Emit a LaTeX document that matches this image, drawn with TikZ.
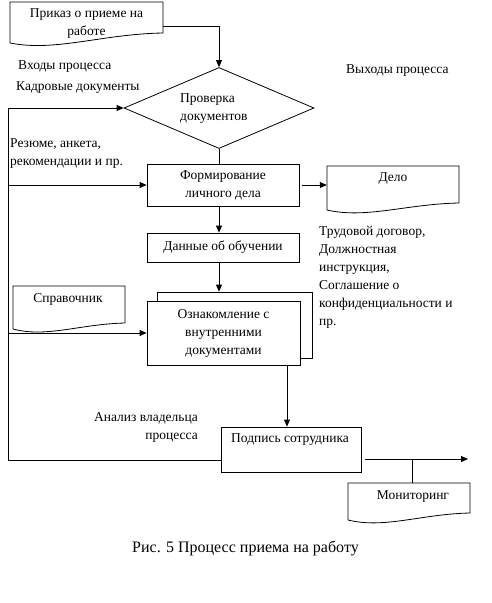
\documentclass[tikz,border=0pt]{standalone}
\usepackage{fontspec}
\setmainfont{Liberation Serif}
\usetikzlibrary{arrows.meta,shapes.geometric,calc}
\newcommand\mydocpath[5]{% x1, ytop, x2, yleft-bottom, yright-bottom
  \draw[line width=0.8pt] (#1,#2) -- (#3,#2) -- (#3,#5)
    .. controls ({#1+0.6*(#3-#1)},{#5+1}) and ({#1+0.3*(#3-#1)},{#4+9}) .. (#1,#4) -- cycle;}
\begin{document}
\begin{tikzpicture}[x=1pt,y=-1pt,
  every node/.style={font=\fontsize{13.5}{18}\selectfont, inner sep=0pt},
  box/.style={draw, line width=0.8pt, rectangle, fill=white},
  ghost/.style={draw=none, rectangle},
  conn/.style={line width=0.8pt},
  arr/.style={line width=0.8pt, -{Triangle[length=7pt,width=6pt]}},
  txt/.style={align=left, anchor=west}]
\useasboundingbox (0,0) rectangle (491,603);

% documents
\mydocpath{10}{2}{163}{43}{33}
\node[ghost, minimum width=153pt, minimum height=43pt, align=center] (prikaz) at (86.5,24) {Приказ о приеме на\\работе};

\mydocpath{327}{166}{459}{210}{203}
\node[ghost, minimum width=132pt, minimum height=44pt] (delo) at (393,188) {};
\node (delot) at (393,179) {Дело};

\mydocpath{13}{286}{125}{329}{323}
\node[ghost, minimum width=112pt, minimum height=43pt] (sprav) at (69,307.5) {};
\node (spravt) at (68,299) {Справочник};

\mydocpath{348}{483}{470}{520}{513}
\node[ghost, minimum width=122pt, minimum height=37pt] (monit) at (409,501.5) {};
\node (monitt) at (413,497) {Мониторинг};

% process shapes
\node[diamond, draw, line width=0.8pt, minimum width=190pt, minimum height=81pt] (prov) at (219,108) {};
\node[align=left, anchor=west] (provt) at (180,109) {Проверка\\документов};
\node[box, minimum width=152pt, minimum height=42pt, align=center] (form) at (223,185) {Формирование\\личного дела};
\node[box, minimum width=152pt, minimum height=29pt] (dann) at (223,247.5) {Данные об обучении};
\node[box, minimum width=155pt, minimum height=66pt] (oznakb) at (234.5,325) {};
\node[box, minimum width=153pt, minimum height=64pt, align=center] (oznak) at (223.5,333) {Ознакомление с\\внутренними\\документами};
\node[box, minimum width=140pt, minimum height=45pt] (podpis) at (291,449.5) {};
\node (podpist) at (290,440) {Подпись сотрудника};

% free texts
\node[txt] (vhod) at (18,67) {Входы процесса};
\node[txt] (kadr) at (16,88) {Кадровые документы};
\node[txt] (vyh) at (346,71) {Выходы процесса};
\node[txt] (rez) at (10,153.5) {Резюме, анкета,\\рекомендации и пр.};
\node[txt] (dog) at (319,277.5) {Трудовой договор,\\Должностная\\инструкция,\\Соглашение о\\конфиденциальности и\\пр.};
\node[align=right, anchor=east] (anal) at (198,427) {Анализ владельца\\процесса};
\node[font=\fontsize{16}{18}\selectfont] (cap) at (245.5,548) {Рис. 5 Процесс приема на работу};

% connectors
\coordinate (pk) at (163,26);
\draw[arr] (pk) -| (prov.north);
\coordinate (lt) at (8,108);
\coordinate (lb) at (8,460);
\draw[conn] (lt) -- (lb) -- (lb -| podpis.west);
\draw[arr] (lt) -- (prov.west);
\draw[arr] (lt |- form.west) -- (form.west);
\draw[arr] (lt |- oznak.west) -- (oznak.west);
\draw[conn] (prov.south) -- (prov.south |- form.north);
\draw[arr] (form.south -| prov.south) -- (dann.north -| prov.south);
\draw[arr] (dann.south -| prov.south) -- (oznakb.north -| prov.south);
\draw[arr, shorten <=3pt] (form.east) -- (form.east -| delo.west);
\coordinate (ozo) at (287,365);
\draw[arr] (ozo) -- (ozo |- podpis.north);
\coordinate (po) at (365,459);
\coordinate (out) at (468,459);
\coordinate (br) at (412,459);
\draw[arr] (po) -- (out);
\draw[conn] (br) -- (br |- monit.north);
\end{tikzpicture}
\end{document}
